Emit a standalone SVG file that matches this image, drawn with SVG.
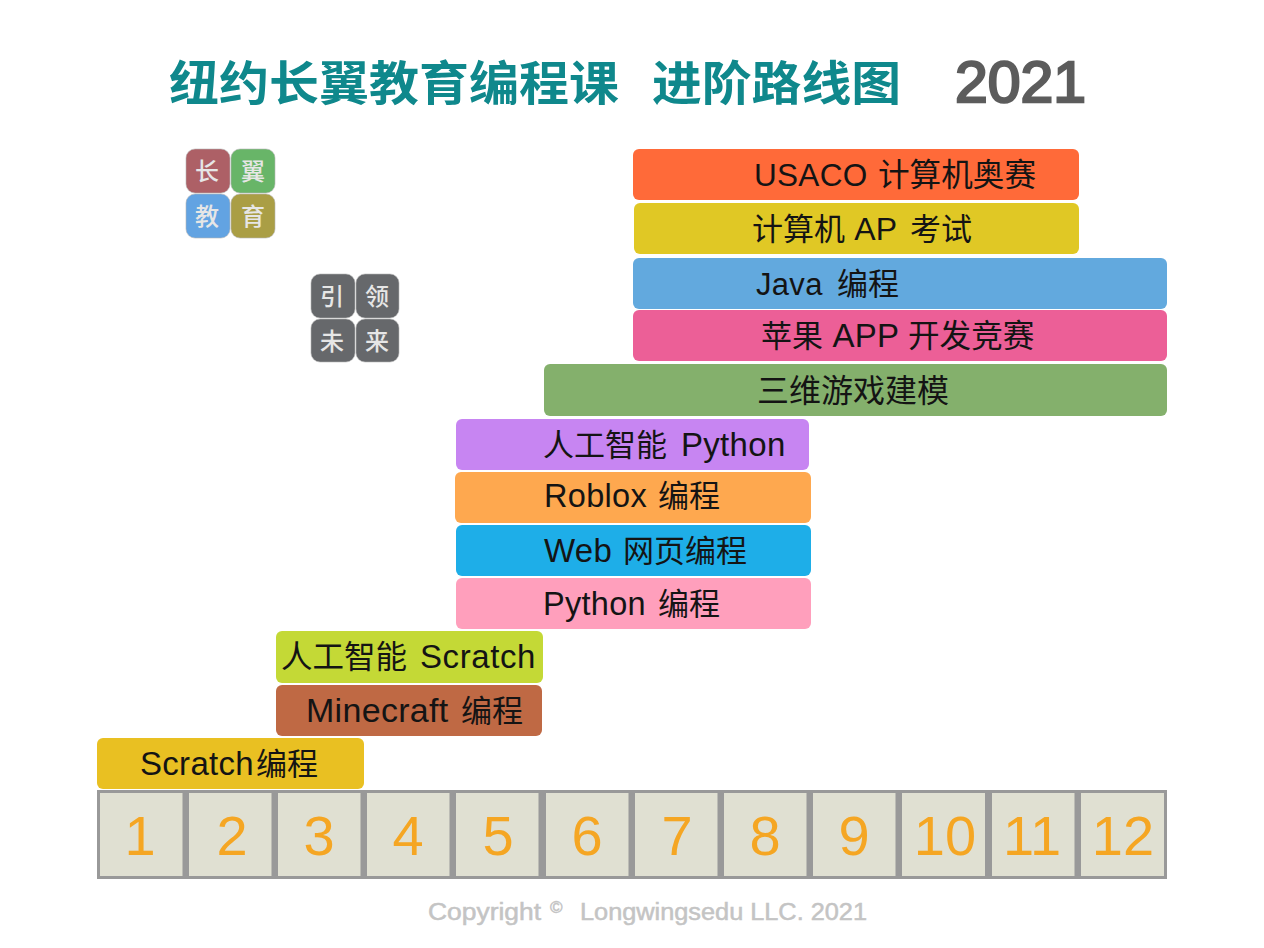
<svg xmlns="http://www.w3.org/2000/svg" width="1264" height="948" viewBox="0 0 1264 948">
<style>
text{font-family:"Liberation Sans","Noto Sans CJK SC",sans-serif}
.b text{font-size:33px;letter-spacing:.3px;fill:#141414}
.b tspan{font-size:31px;letter-spacing:0}
.t{font-size:47px;font-weight:700;fill:#0f888c}
.n{font-size:56px;fill:#f5a623;text-anchor:middle}
.c{fill:#e0e0d2}
.s{font-size:24px;font-weight:500;fill:#e6e6e6;text-anchor:middle}
.tile{stroke:#b5b5b5;stroke-width:.6}
.cr{font-size:23px;fill:#c4c4c4;stroke:#c4c4c4;stroke-width:.5}
</style>
<rect width="1264" height="948" fill="#fff"/>
<g id="title">
<text class="t" x="169" y="100" textLength="450" lengthAdjust="spacingAndGlyphs">纽约长翼教育编程课</text>
<text class="t" x="652" y="100" textLength="249" lengthAdjust="spacingAndGlyphs">进阶路线图</text>
<text x="955" y="102" font-size="58" fill="#5c5c5c" stroke="#5c5c5c" stroke-width="2.4" textLength="131" lengthAdjust="spacingAndGlyphs">2021</text>
</g>
<g id="logo1">
<rect class="tile" x="186" y="149" width="44" height="44" rx="9" fill="#ad6066"/><text class="s" x="207" y="180">长</text>
<rect class="tile" x="231" y="149" width="44" height="44" rx="9" fill="#68b568"/><text class="s" x="253" y="180">翼</text>
<rect class="tile" x="186" y="194" width="44" height="44" rx="9" fill="#62a3e2"/><text class="s" x="207" y="225">教</text>
<rect class="tile" x="231" y="194" width="44" height="44" rx="9" fill="#aa9e45"/><text class="s" x="253" y="225">育</text>
</g>
<g id="logo2">
<rect class="tile" x="311" y="274" width="44" height="44" rx="9" fill="#66686b"/><text class="s" x="332" y="305">引</text>
<rect class="tile" x="356" y="274" width="43" height="44" rx="9" fill="#66686b"/><text class="s" x="377" y="305">领</text>
<rect class="tile" x="311" y="319" width="44" height="43" rx="9" fill="#66686b"/><text class="s" x="332" y="350">未</text>
<rect class="tile" x="356" y="319" width="43" height="43" rx="9" fill="#66686b"/><text class="s" x="377" y="350">来</text>
</g>
<g class="b">
<g id="usaco"><rect x="633" y="149" width="446" height="51" rx="6" fill="#ff6a39"/><text x="754" y="186" style="font-size:31.5px">USACO <tspan x="878" style="font-size:31.6px">计算机奥赛</tspan></text></g>
<g id="ap"><rect x="634" y="203" width="445" height="51" rx="6" fill="#e0c825"/><text x="752" y="240" style="font-size:32px"><tspan>计算机</tspan> AP <tspan x="910">考试</tspan></text></g>
<g id="java"><rect x="633" y="258" width="534" height="51" rx="6" fill="#62a9de"/><text x="756" y="295" style="font-size:31px">Java <tspan x="837">编程</tspan></text></g>
<g id="app"><rect x="633" y="310" width="534" height="51" rx="6" fill="#ec5f97"/><text x="761" y="347"><tspan>苹果</tspan> APP <tspan x="908" style="font-size:31.6px">开发竞赛</tspan></text></g>
<g id="model3d"><rect x="544" y="364" width="623" height="52" rx="6" fill="#84b06c"/><text x="757" y="402"><tspan style="font-size:32px">三维游戏建模</tspan></text></g>
<g id="aipython"><rect x="456" y="419" width="353" height="51" rx="6" fill="#c785f2"/><text x="543" y="456"><tspan>人工智能</tspan> <tspan x="681" style="font-size:33px;letter-spacing:.3px">Python</tspan></text></g>
<g id="roblox"><rect x="455" y="472" width="356" height="51" rx="6" fill="#fea84f"/><text x="544" y="507" style="font-size:32.5px">Roblox <tspan x="658">编程</tspan></text></g>
<g id="web"><rect x="456" y="525" width="355" height="51" rx="6" fill="#1eaee8"/><text x="544" y="562">Web <tspan x="623">网页编程</tspan></text></g>
<g id="python"><rect x="456" y="578" width="355" height="51" rx="6" fill="#ff9fbc"/><text x="543" y="615" style="font-size:32.5px">Python <tspan x="658">编程</tspan></text></g>
<g id="aiscratch"><rect x="276" y="631" width="267" height="52" rx="6" fill="#c4d936"/><text x="281" y="668"><tspan style="font-size:31.5px">人工智能</tspan> <tspan x="420" style="font-size:33px;letter-spacing:.6px">Scratch</tspan></text></g>
<g id="minecraft"><rect x="276" y="685" width="266" height="51" rx="6" fill="#bf6944"/><text x="306" y="722" style="font-size:34px">Minecraft <tspan x="461">编程</tspan></text></g>
<g id="scratch"><rect x="97" y="738" width="267" height="51" rx="6" fill="#e9c022"/><text x="140" y="775">Scratch<tspan x="256">编程</tspan></text></g>
</g>
<g id="grades">
<rect x="97" y="790" width="1070" height="89" fill="#999"/>
<rect class="c" x="100" y="793" width="82.5" height="83"/><text class="n" x="140" y="855">1</text>
<rect class="c" x="189" y="793" width="82.5" height="83"/><text class="n" x="232" y="855">2</text>
<rect class="c" x="278" y="793" width="82.5" height="83"/><text class="n" x="319" y="855">3</text>
<rect class="c" x="367" y="793" width="82.5" height="83"/><text class="n" x="408" y="855">4</text>
<rect class="c" x="456" y="793" width="82.5" height="83"/><text class="n" x="498" y="855">5</text>
<rect class="c" x="546" y="793" width="82.5" height="83"/><text class="n" x="587" y="855">6</text>
<rect class="c" x="635" y="793" width="82.5" height="83"/><text class="n" x="677" y="855">7</text>
<rect class="c" x="724" y="793" width="82.5" height="83"/><text class="n" x="765" y="855">8</text>
<rect class="c" x="813" y="793" width="82.5" height="83"/><text class="n" x="854" y="855">9</text>
<rect class="c" x="902" y="793" width="83" height="83"/><text class="n" x="945" y="855">10</text>
<rect class="c" x="992" y="793" width="82.5" height="83"/><text class="n" x="1032" y="855">11</text>
<rect class="c" x="1081" y="793" width="83" height="83"/><text class="n" x="1123" y="855">12</text>
</g>
<g id="copyright">
<text class="cr" x="428" y="920" textLength="113" lengthAdjust="spacingAndGlyphs">Copyright</text>
<text class="cr" x="550" y="913" style="font-size:17px">©</text>
<text class="cr" x="580" y="920" textLength="287" lengthAdjust="spacingAndGlyphs">Longwingsedu LLC. 2021</text>
</g>
</svg>
